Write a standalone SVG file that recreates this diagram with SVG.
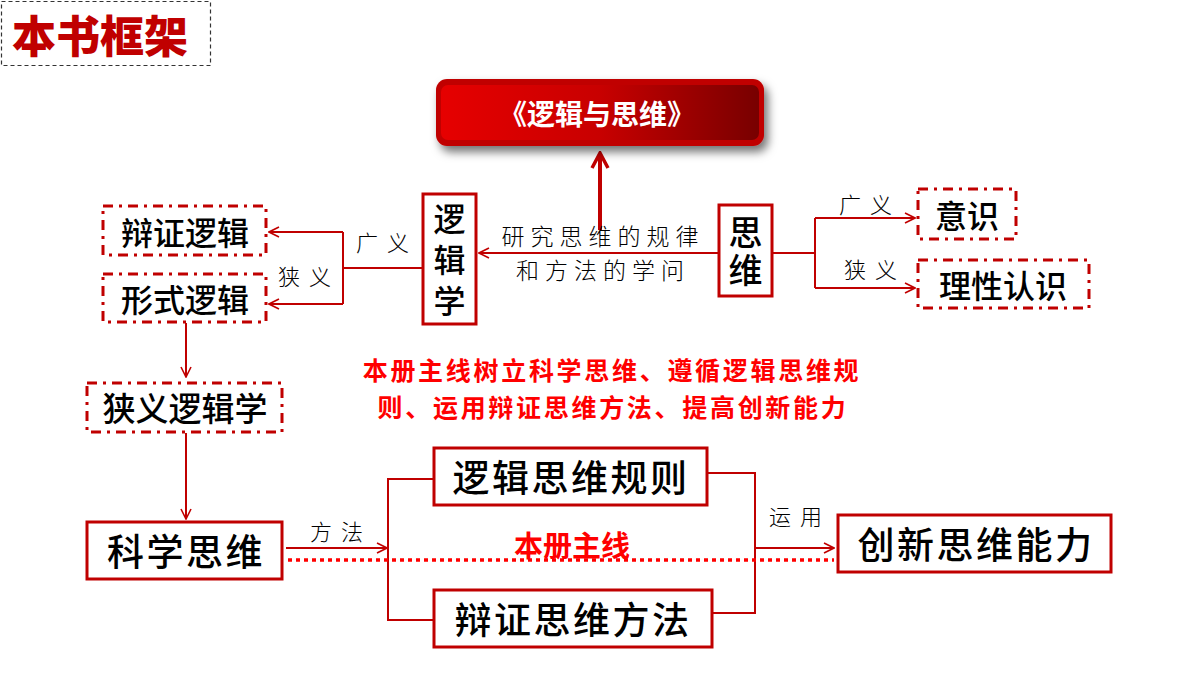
<svg xmlns="http://www.w3.org/2000/svg" width="1200" height="675" viewBox="0 0 1200 675">
<style>
.t{font-family:"Noto Sans CJK SC","Noto Sans",sans-serif;font-weight:500;fill:#000;text-anchor:middle;dominant-baseline:central}
.v{font-family:"Noto Sans CJK SC","Noto Sans",sans-serif;font-weight:500;fill:#000;text-anchor:middle;writing-mode:vertical-rl;text-orientation:upright}
.lab{font-family:"Noto Sans CJK SC","Noto Sans",sans-serif;font-weight:300;fill:#000;font-size:22px;text-anchor:middle;dominant-baseline:central;letter-spacing:9px}
.lab2{font-family:"Noto Sans CJK SC","Noto Sans",sans-serif;font-weight:300;fill:#000;font-size:23px;text-anchor:middle;dominant-baseline:central;letter-spacing:6px}
.solid{fill:#fff;stroke:#C00000;stroke-width:3}
.dd{fill:#fff;stroke:#C00000;stroke-width:3;stroke-dasharray:10 6 3 6}
.ln{fill:none;stroke:#C00000;stroke-width:2}
.red{font-family:"Noto Sans CJK SC","Noto Sans",sans-serif;font-weight:700;fill:#FF0000;text-anchor:middle;dominant-baseline:central}
.big{font-size:37px;letter-spacing:2.5px}
.mid{font-size:32px}
</style>
<defs>
<marker id="ao" viewBox="0 0 12 12" refX="11" refY="6" markerWidth="12" markerHeight="12" markerUnits="userSpaceOnUse" orient="auto">
<path d="M1,1 L11,6 L1,11" fill="none" stroke="#C00000" stroke-width="1.6"/>
</marker>
<marker id="big" viewBox="0 0 20 20" refX="18" refY="10" markerWidth="20" markerHeight="20" markerUnits="userSpaceOnUse" orient="auto">
<path d="M3,2 L18,10 L3,18" fill="none" stroke="#C00000" stroke-width="3.5"/>
</marker>
<linearGradient id="bg" x1="0" y1="0" x2="1" y2="0">
<stop offset="0" stop-color="#E60000"/>
<stop offset="0.5" stop-color="#C80000"/>
<stop offset="1" stop-color="#780000"/>
</linearGradient>
<filter id="sh" x="-10%" y="-20%" width="125%" height="160%">
<feDropShadow dx="4" dy="6" stdDeviation="5" flood-color="#000" flood-opacity="0.55"/>
</filter>
</defs>

<g id="title">
<rect x="1.5" y="1.5" width="209" height="64" fill="#fff" stroke="#333" stroke-width="1.2" stroke-dasharray="4 3"/>
<text x="100" y="34" class="t" style="fill:#C00000;font-weight:900;font-size:44px">本书框架</text>
</g>

<g id="connectors">
<line x1="600" y1="230" x2="600" y2="153" stroke="#C00000" stroke-width="4" marker-end="url(#big)"/>
<line class="ln" x1="718" y1="253" x2="479" y2="253" marker-end="url(#ao)"/>
<polyline class="ln" points="773,253 815,253"/>
<polyline class="ln" points="815,218 815,288"/>
<line class="ln" x1="815" y1="218" x2="915" y2="218" marker-end="url(#ao)"/>
<line class="ln" x1="815" y1="288" x2="915" y2="288" marker-end="url(#ao)"/>
<line class="ln" x1="422" y1="268" x2="343" y2="268"/>
<polyline class="ln" points="343,232 343,304"/>
<line class="ln" x1="343" y1="232" x2="269" y2="232" marker-end="url(#ao)"/>
<line class="ln" x1="343" y1="304" x2="269" y2="304" marker-end="url(#ao)"/>
<line class="ln" x1="186" y1="323" x2="186" y2="377" marker-end="url(#ao)"/>
<line class="ln" x1="186" y1="433" x2="186" y2="519" marker-end="url(#ao)"/>
<line class="ln" x1="286" y1="548" x2="387" y2="548" marker-end="url(#ao)"/>
<polyline class="ln" points="433,479 388,479 388,620 433,620"/>
<polyline class="ln" points="707,473 755,473 755,613 712,613"/>
<line class="ln" x1="755" y1="548" x2="834" y2="548" marker-end="url(#ao)"/>
<line x1="288" y1="560" x2="834" y2="560" stroke="#FF0000" stroke-width="3.5" stroke-dasharray="4 4"/>
</g>

<g id="labels">
<text x="603" y="235" class="lab2">研究思维的规律</text>
<text x="603" y="269" class="lab2">和方法的学问</text>
<text x="870" y="203" class="lab">广义</text>
<text x="875" y="268" class="lab">狭义</text>
<text x="387" y="241" class="lab">广义</text>
<text x="309" y="275" class="lab">狭义</text>
<text x="341" y="530" class="lab">方法</text>
<text x="800" y="515" class="lab">运用</text>
<text x="572" y="544" class="red" style="font-size:29px">本册主线</text>
</g>

<g id="book">
<rect x="436" y="79" width="328" height="67" rx="11" fill="#C00000" filter="url(#sh)"/>
<rect x="441" y="85" width="318" height="55" rx="7" fill="url(#bg)"/>
<text x="597" y="113" class="t" style="fill:#fff;font-weight:700;font-size:28px">《逻辑与思维》</text>
</g>

<g id="luojixue">
<rect class="solid" x="423" y="194" width="53" height="130"/>
<text x="449.5" y="264" class="v" style="font-size:32px;letter-spacing:9px">逻辑学</text>
</g>

<g id="siwei">
<rect class="solid" x="719" y="205" width="53" height="91"/>
<text x="745.5" y="253" class="v" style="font-size:34px;letter-spacing:4px">思维</text>
</g>

<g id="yishi">
<rect class="dd" x="918" y="189" width="98" height="50"/>
<text x="967" y="214" class="t mid">意识</text>
</g>

<g id="lixingrenshi">
<rect class="dd" x="918" y="260" width="171" height="48"/>
<text x="1003" y="284" class="t mid">理性认识</text>
</g>

<g id="bianzhengluoji">
<rect class="dd" x="103" y="206" width="163" height="49"/>
<text x="185" y="231" class="t mid">辩证逻辑</text>
</g>

<g id="xingshiluoji">
<rect class="dd" x="103" y="274" width="163" height="48"/>
<text x="185" y="298" class="t mid">形式逻辑</text>
</g>

<g id="xiayiluojixue">
<rect class="dd" x="87" y="383" width="195" height="49"/>
<text x="185" y="407" class="t" style="font-size:33px">狭义逻辑学</text>
</g>

<g id="kexuesiwei">
<rect class="solid" x="87" y="522" width="195" height="57"/>
<text x="186" y="550" class="t big">科学思维</text>
</g>

<g id="luojisiweiguize">
<rect class="solid" x="434" y="448" width="273" height="57"/>
<text x="571" y="476" class="t big">逻辑思维规则</text>
</g>

<g id="bianzhengsiweifangfa">
<rect class="solid" x="434" y="590" width="278" height="57"/>
<text x="573" y="618" class="t big">辩证思维方法</text>
</g>

<g id="chuangxin">
<rect class="solid" x="838" y="515" width="273" height="57"/>
<text x="976" y="543" class="t big">创新思维能力</text>
</g>

<g id="mainline">
<text class="red" style="font-size:25px;letter-spacing:2.7px"><tspan x="612" y="369">本册主线树立科学思维、遵循逻辑思维规</tspan><tspan x="613" y="406">则、运用辩证思维方法、提高创新能力</tspan></text>
</g>
</svg>
